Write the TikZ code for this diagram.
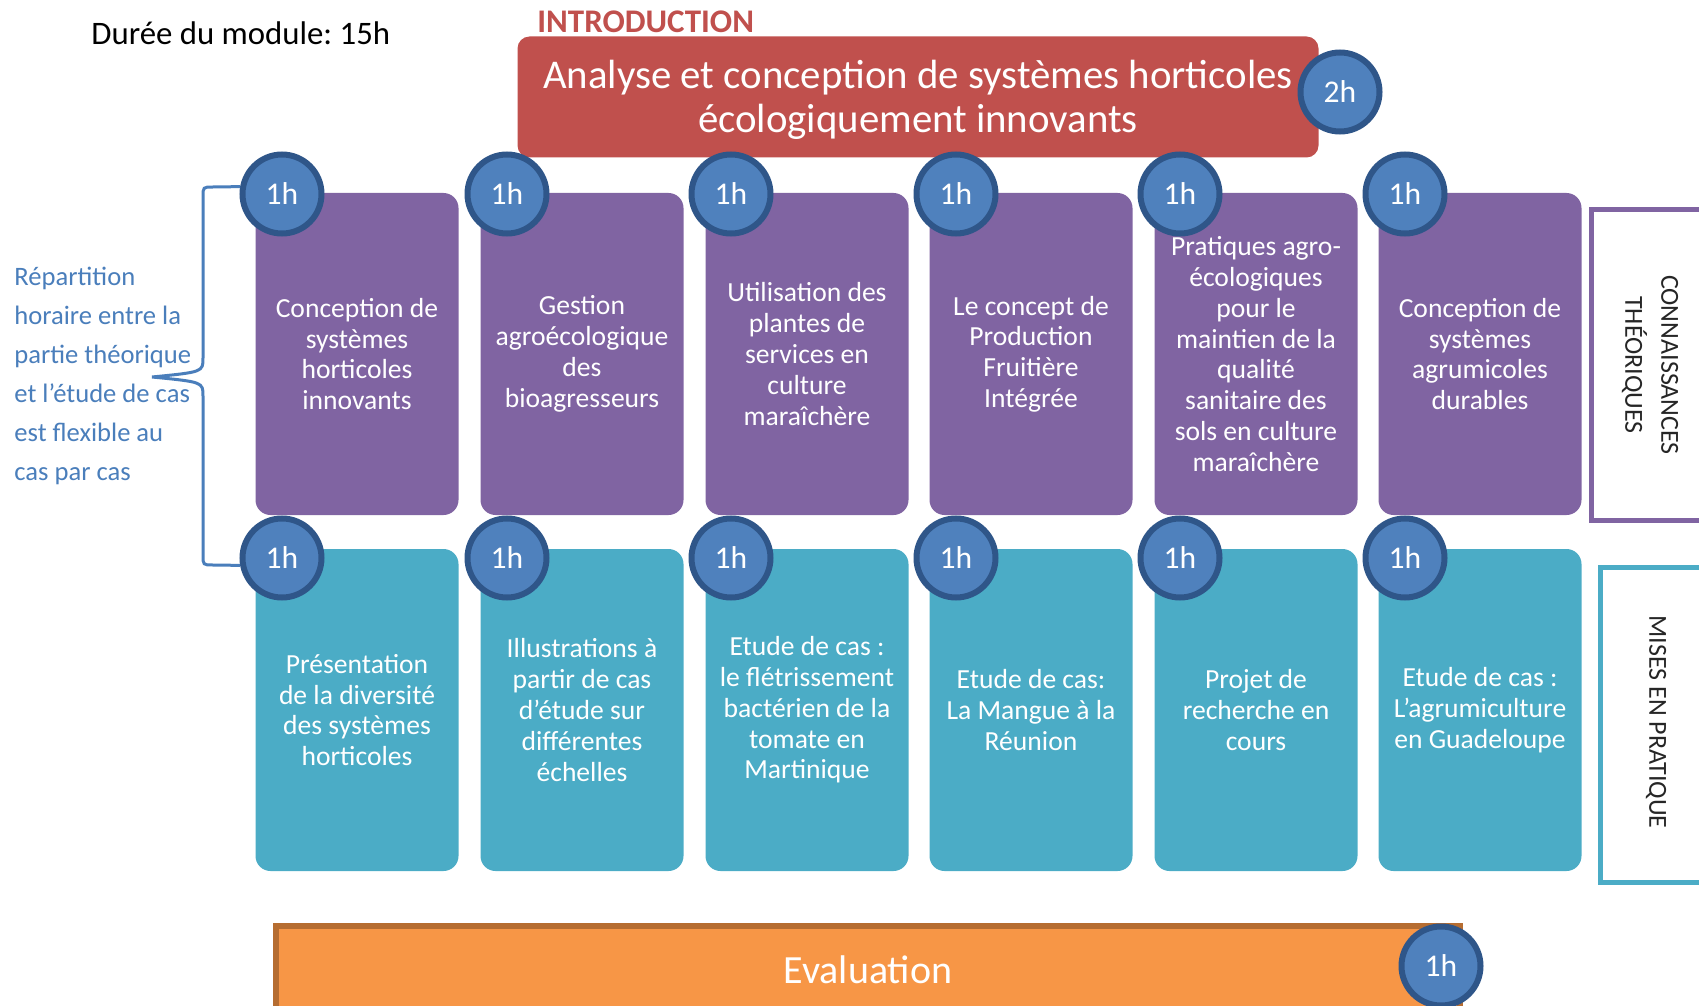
\documentclass[tikz,border=0pt]{standalone}
\usepackage{fontspec}
\setmainfont{Carlito}
\usepackage{tikz}
\frenchspacing

\definecolor{theopurple}{HTML}{8064A2}
\definecolor{pratteal}{HTML}{4BACC6}
\definecolor{introred}{HTML}{C0504D}
\definecolor{evalorange}{HTML}{F79646}
\definecolor{evaledge}{HTML}{B66D31}
\definecolor{hourblue}{HTML}{4F81BD}
\definecolor{houredge}{HTML}{2F5689}
\definecolor{noteblue}{HTML}{4A7EBB}

\newcommand\cardfont{\fontsize{13.8pt}{15.4pt}\selectfont}
\newcommand\headfont{\fontsize{20.4pt}{22pt}\selectfont}
\newcommand\hourfont{\fontsize{15.8pt}{17pt}\selectfont}
\newcommand\notefont{\fontsize{13.3pt}{19.5pt}\selectfont}
\newcommand\sidefont{\fontsize{13pt}{18pt}\selectfont}
\newcommand\evalfont{\fontsize{20pt}{22pt}\selectfont}
\newcommand\dureefont{\fontsize{16.4pt}{18pt}\selectfont}
\newcommand\introfont{\fontsize{16.5pt}{18pt}\selectfont\bfseries}

\tikzset{
  card/.style={rounded corners=7.5pt, text=white, align=center, font=\cardfont,
    minimum width=101.5pt, minimum height=161pt, inner sep=0pt},
  theorie/.style={card, fill=theopurple},
  pratique/.style={card, fill=pratteal},
  hour/.style={circle, fill=hourblue, draw=houredge, line width=3pt, text=white,
    font=\hourfont, minimum size=39.5pt, inner sep=0pt},
  plain/.style={inner sep=0pt},
  sideframe/.style={draw, line width=2.5pt, fill=white, minimum height=155pt},
  sidelabel/.style={rotate=-90, align=center, font=\sidefont, text=black!85},
  bracket/.style={draw=noteblue, line width=1.5pt},
}

\begin{document}
\begin{tikzpicture}[x=0.5pt,y=-0.5pt]
\useasboundingbox (0,0) rectangle (1699,1006);

% en-tete
\path (91,33) node[plain,anchor=west,font=\dureefont] (duree) {Durée du module: 15h};
\path (537,22) node[plain,anchor=west,font=\introfont,text=introred] (intro) {INTRODUCTION};
\path (918,97) node[rounded corners=6pt, fill=introred, text=white, align=center, font=\headfont,
  minimum width=400.5pt, minimum height=60.5pt, inner sep=0pt] (analyse)
  {\rule{0pt}{17pt}Analyse et conception de systèmes horticoles\\écologiquement innovants};
\path (1340,92) node[hour] (h0) {2h};

% connaissances theoriques
\path ( 357,354) node[theorie] (theo1) {Conception de\\systèmes\\horticoles\\innovants};
\path ( 582,354) node[theorie] (theo2) {Gestion\\agroécologique\\des\\bioagresseurs};
\path ( 807,354) node[theorie] (theo3) {Utilisation des\\plantes de\\services en\\culture\\maraîchère};
\path (1031,354) node[theorie] (theo4) {Le concept de\\Production\\Fruitière\\Intégrée};
\path (1256,354) node[theorie] (theo5) {Pratiques agro-\\écologiques\\pour le\\maintien de la\\qualité\\sanitaire des\\sols en culture\\maraîchère};
\path (1480,354) node[theorie] (theo6) {Conception de\\systèmes\\agrumicoles\\durables};

% mises en pratique
\path ( 357,710) node[pratique] (prat1) {Présentation\\de la diversité\\des systèmes\\horticoles};
\path ( 582,710) node[pratique] (prat2) {Illustrations à\\partir de cas\\d’étude sur\\différentes\\échelles};
\path ( 807,710) node[pratique] (prat3) {Etude de cas :\\le flétrissement\\bactérien de la\\tomate en\\Martinique};
\path (1031,710) node[pratique] (prat4) {Etude de cas:\\La Mangue à la\\Réunion};
\path (1256,710) node[pratique] (prat5) {Projet de\\recherche en\\cours};
\path (1480,710) node[pratique] (prat6) {Etude de cas :\\L’agrumiculture\\en Guadeloupe};

% heures
\path ( 282,194) node[hour] (ht1) {1h};
\path ( 507,194) node[hour] (ht2) {1h};
\path ( 731,194) node[hour] (ht3) {1h};
\path ( 956,194) node[hour] (ht4) {1h};
\path (1180,194) node[hour] (ht5) {1h};
\path (1405,194) node[hour] (ht6) {1h};
\path ( 282,558) node[hour] (hp1) {1h};
\path ( 507,558) node[hour] (hp2) {1h};
\path ( 731,558) node[hour] (hp3) {1h};
\path ( 956,558) node[hour] (hp4) {1h};
\path (1180,558) node[hour] (hp5) {1h};
\path (1405,558) node[hour] (hp6) {1h};

% cadres lateraux
\path (1656,365) node[sideframe,draw=theopurple,minimum width=65pt] (theoframe) {};
\path (1650,365) node[sidelabel] (theolabel) {CONNAISSANCES\\THÉORIQUES};
\path (1661,725) node[sideframe,draw=pratteal,minimum width=60.5pt,minimum height=157.5pt] (pratframe) {};
\path (1656,722) node[sidelabel] (pratlabel) {MISES EN PRATIQUE};

% evaluation
\path (868,970) node[fill=evalorange, draw=evaledge, line width=3pt, text=white, font=\evalfont,
  minimum width=592pt, minimum height=44pt, inner sep=0pt] (eval) {Evaluation};
\path (1441,966) node[hour] (h13) {1h};

% note et accolade
\path (14,376) node[plain,anchor=west,align=left,font=\notefont,text=noteblue] (note)
  {Répartition\\horaire entre la\\partie théorique\\et l’étude de cas\\est flexible au\\cas par cas};
\coordinate (bracetip) at (152,377);
\draw [bracket] (ht1.170) -- (213,187) .. controls (203,187) .. (203,197) -- (203,358)
  .. controls (203,372) .. (bracetip) .. controls (203,382) .. (203,396) -- (203,555)
  .. controls (203,565) .. (213,565) -- (hp1.190);
\end{tikzpicture}
\end{document}
